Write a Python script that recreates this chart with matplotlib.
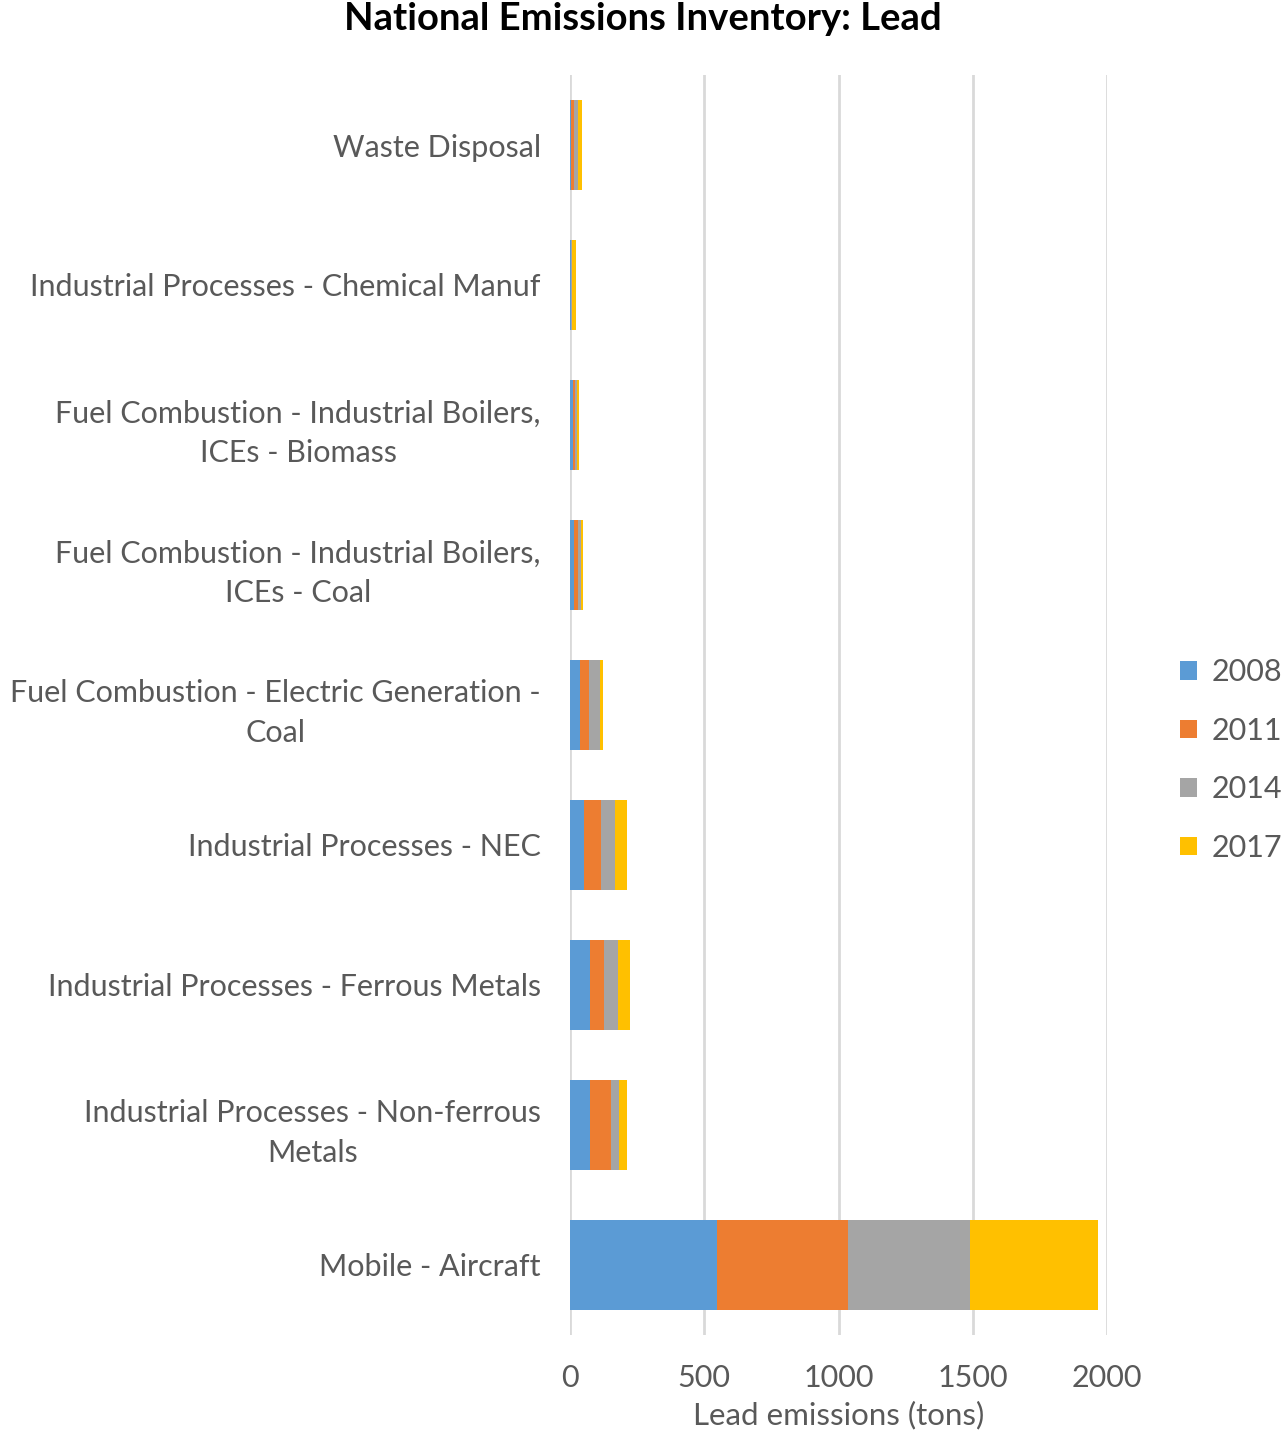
import numpy as np
import matplotlib.pyplot as plt

# categories listed bottom to top
categories = ['Mobile - Aircraft',
              'Industrial Processes - Non-ferrous\nMetals',
              'Industrial Processes - Ferrous Metals',
              'Industrial Processes - NEC',
              'Fuel Combustion - Electric Generation -\nCoal',
              'Fuel Combustion - Industrial Boilers,\nICEs - Coal',
              'Fuel Combustion - Industrial Boilers,\nICEs - Biomass',
              'Industrial Processes - Chemical Manuf',
              'Waste Disposal']

years = ['2008', '2011', '2014', '2017']
v2008 = [548, 74, 74, 52, 37, 15, 11, 2, 4]
v2011 = [487, 78, 52, 63, 33, 15, 7, 3, 11]
v2014 = [455, 30, 52, 52, 41, 11, 7, 2, 15]
v2017 = [476, 30, 45, 45, 11, 7, 8, 15, 15]

colors = ['#5b9bd5', '#ed7d31', '#a5a5a5', '#ffc000']

plt.rcParams['font.family'] = ['Lato', 'DejaVu Sans']

fig = plt.figure(figsize=(12.85, 14.36), dpi=100)
ax = fig.add_axes([570 / 1285, 1 - 1335 / 1436, (1107 - 570) / 1285, 1260 / 1436])

y = np.arange(len(categories))
left = np.zeros(len(categories))
for yr, vals, c in zip(years, [v2008, v2011, v2014, v2017], colors):
    ax.barh(y, vals, left=left, height=0.64, color=c, label=yr, zorder=3)
    left += np.array(vals)

ax.set_xlim(0, 2000)
ax.set_ylim(-0.5, len(categories) - 0.5)
ax.set_xticks([0, 500, 1000, 1500, 2000])
ax.set_yticks(y)
ax.set_yticklabels(categories, ha='right', multialignment='center', linespacing=1.5)
ax.tick_params(axis='y', length=0, pad=21, labelsize=22, labelcolor='#595959')
ax.tick_params(axis='x', length=0, pad=21, labelsize=22, labelcolor='#595959')
ax.grid(axis='x', color='#d9d9d9', linewidth=2, zorder=0)
for s in ax.spines.values():
    s.set_visible(False)

ax.set_xlabel('Lead emissions (tons)', fontsize=22.5, color='#595959', labelpad=6)
fig.text(0.5, 1 - 19 / 1436, 'National Emissions Inventory: Lead', ha='center', va='center',
         fontsize=27.5, fontweight='bold', color='black')

leg = fig.legend(loc='center left', bbox_to_anchor=(1180 / 1285, 1 - 760 / 1436), frameon=False,
                 fontsize=22, labelcolor='#595959', handlelength=0.55, handleheight=0.55,
                 handletextpad=0.5, labelspacing=1.0, borderpad=0, borderaxespad=0)

fig.savefig('out.png', dpi=100)
